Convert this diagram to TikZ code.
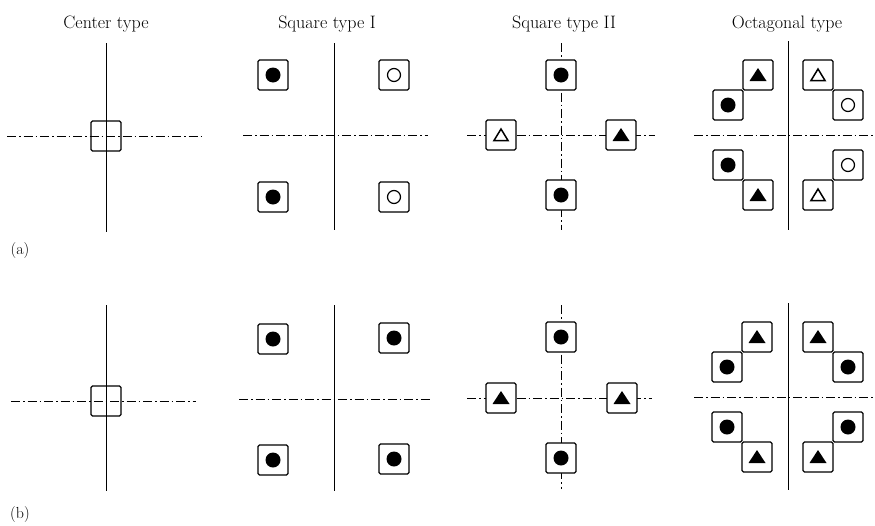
\documentclass[tikz,border=0pt]{standalone}
\usepackage{fontspec}
\begin{document}
\begin{tikzpicture}[x=1pt,y=-1pt,
  cell/.style={draw, line width=1.2pt, minimum size=30pt, inner sep=0pt, rounded corners=1.5pt, fill=white},
  vline/.style={line width=0.6pt},
  cl/.style={line width=0.7pt, dash pattern=on 9pt off 3pt on 1.5pt off 3pt},
  title/.style={anchor=base, font=\fontsize{18}{20}\selectfont\addfontfeatures{LetterSpace=5}},
  tag/.style={anchor=base, font=\fontsize{16}{18}\selectfont\addfontfeatures{LetterSpace=5}},
  fdot/.pic={\fill (0,0) circle[radius=7.5pt];},
  odot/.pic={\draw[line width=1.2pt] (0,0) circle[radius=6.5pt];},
  ftri/.pic={\fill (-8.5pt,-6pt) -- (8.5pt,-6pt) -- (0pt,7pt) -- cycle;},
  otri/.pic={\draw[line width=1.5pt, line join=miter] (-7pt,-5.5pt) -- (7pt,-5.5pt) -- (0pt,6pt) -- cycle;}
]
\useasboundingbox (0,0) rectangle (875,525);

% titles
\node[title] (t1) at (106,28) {Center type};
\node[title] (t2) at (327,28) {Square type I};
\node[title] (t3) at (564,28) {Square type II};
\node[title] (t4) at (787,28) {Octagonal type};
\node[tag] (la) at (20,254) {(a)};
\node[tag] (lb) at (20,518) {(b)};

% ---------- row (a) ----------
\begin{scope}[shift={(106,136)}]
  \draw[vline] (0,-93) -- (0,96);
  \draw[cl] (-99,0) -- (96,0);
  \node[cell, fill=none] (ca) at (0,0) {};
\end{scope}

\begin{scope}[shift={(334,135)}]
  \draw[vline] (0,-92) -- (0,95);
  \draw[cl] (-91,0) -- (94,0);
  \node[cell] (s1a1) at (-61,-60) {}; \pic at (s1a1.center) {fdot};
  \node[cell] (s1a2) at (60,-60) {};  \pic at (s1a2.center) {odot};
  \node[cell] (s1a3) at (-61,62) {};  \pic at (s1a3.center) {fdot};
  \node[cell] (s1a4) at (60,62) {};   \pic at (s1a4.center) {odot};
\end{scope}

\begin{scope}[shift={(561,135)}]
  \draw[cl] (0,-92) -- (0,95);
  \draw[cl] (-94,0) -- (94,0);
  \node[cell] (s2a1) at (0,-60) {}; \pic at (s2a1.center) {fdot};
  \node[cell] (s2a2) at (0,60) {};  \pic at (s2a2.center) {fdot};
  \node[cell] (s2a3) at (-60,0) {}; \pic at (s2a3.center) {otri};
  \node[cell] (s2a4) at (60,0) {};  \pic at (s2a4.center) {ftri};
\end{scope}

\begin{scope}[shift={(788,135)}]
  \draw[vline] (0,-94) -- (0,95);
  \draw[cl] (-94,0) -- (87,0);
  \node[cell] (oa1) at (-30,-60) {}; \pic at (oa1.center) {ftri};
  \node[cell] (oa2) at (-60,-30) {}; \pic at (oa2.center) {fdot};
  \node[cell] (oa3) at (30,-60) {};  \pic at (oa3.center) {otri};
  \node[cell] (oa4) at (60,-30) {};  \pic at (oa4.center) {odot};
  \node[cell] (oa5) at (-60,30) {};  \pic at (oa5.center) {fdot};
  \node[cell] (oa6) at (-30,60) {};  \pic at (oa6.center) {ftri};
  \node[cell] (oa7) at (60,30) {};   \pic at (oa7.center) {odot};
  \node[cell] (oa8) at (30,60) {};   \pic at (oa8.center) {otri};
\end{scope}

% ---------- row (b) ----------
\begin{scope}[shift={(106,401)}]
  \draw[vline] (0,-96) -- (0,90);
  \draw[cl] (-95,0) -- (90,0);
  \node[cell, fill=none] (cb) at (0,0) {};
\end{scope}

\begin{scope}[shift={(334,399)}]
  \draw[vline] (0,-94) -- (0,92);
  \draw[cl] (-95,0) -- (98,0);
  \node[cell] (s1b1) at (-61,-60) {}; \pic at (s1b1.center) {fdot};
  \node[cell] (s1b2) at (60,-61) {};  \pic at (s1b2.center) {fdot};
  \node[cell] (s1b3) at (-61,61) {};  \pic at (s1b3.center) {fdot};
  \node[cell] (s1b4) at (60,60) {};   \pic at (s1b4.center) {fdot};
\end{scope}

\begin{scope}[shift={(561,398)}]
  \draw[cl] (0,-93) -- (0,91);
  \draw[cl] (-94,0) -- (91,0);
  \node[cell] (s2b1) at (0,-61) {}; \pic at (s2b1.center) {fdot};
  \node[cell] (s2b2) at (0,60) {};  \pic at (s2b2.center) {fdot};
  \node[cell] (s2b3) at (-60,0) {}; \pic at (s2b3.center) {ftri};
  \node[cell] (s2b4) at (61,0) {};  \pic at (s2b4.center) {ftri};
\end{scope}

\begin{scope}[shift={(788,397)}]
  \draw[vline] (0,-94) -- (0,93);
  \draw[cl] (-94,0) -- (87,0);
  \node[cell] (ob1) at (-31,-60) {}; \pic at (ob1.center) {ftri};
  \node[cell] (ob2) at (-61,-30) {}; \pic at (ob2.center) {fdot};
  \node[cell] (ob3) at (30,-60) {};  \pic at (ob3.center) {ftri};
  \node[cell] (ob4) at (60,-30) {};  \pic at (ob4.center) {fdot};
  \node[cell] (ob5) at (-61,30) {};  \pic at (ob5.center) {fdot};
  \node[cell] (ob6) at (-31,60) {};  \pic at (ob6.center) {ftri};
  \node[cell] (ob7) at (60,30) {};   \pic at (ob7.center) {fdot};
  \node[cell] (ob8) at (30,60) {};   \pic at (ob8.center) {ftri};
\end{scope}
\end{tikzpicture}
\end{document}
